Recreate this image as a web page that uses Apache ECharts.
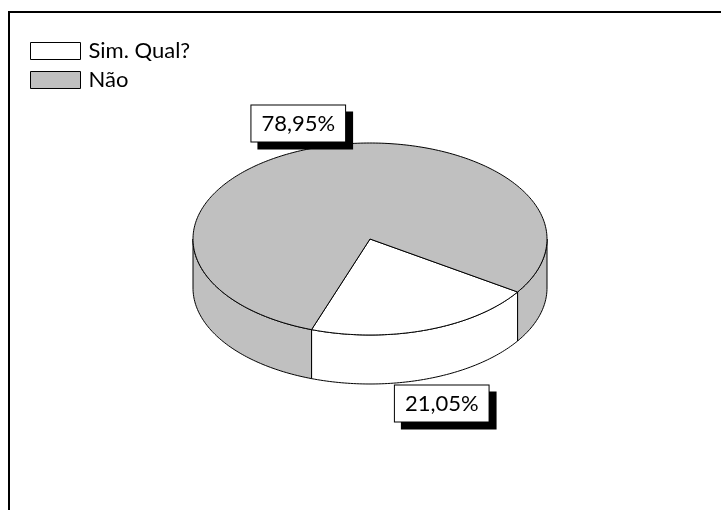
<!DOCTYPE html>
<html><head><meta charset="utf-8">
<script src="https://cdn.jsdelivr.net/npm/echarts@6/dist/echarts.min.js"></script>
<style>html,body{margin:0;padding:0;background:#fff}#c{width:721px;height:510px}</style>
</head><body><div id="c"></div>
<script>
const categories = ['Sim. Qual?', 'Não'];
const values = [21.05, 78.95];
const colors = ['#ffffff', '#c0c0c0'];

const chart = echarts.init(document.getElementById('c'), null, {renderer: 'canvas'});
const CX = 370, CY = 239, RX = 177, RY = 96, DEPTH = 49, START = 33.5;
const total = values.reduce((a, b) => a + b, 0);
function pt(deg, dy) { const r = deg * Math.PI / 180; return [CX + RX * Math.cos(r), CY + RY * Math.sin(r) + (dy || 0)]; }
function arc(a1, a2, dy) { const pts = []; const n = Math.max(2, Math.ceil(Math.abs(a2 - a1))); for (let i = 0; i <= n; i++) pts.push(pt(a1 + (a2 - a1) * i / n, dy)); return pts; }
function fmt(v) { return v.toFixed(2).replace('.', ',') + '%'; }

function makeRender(idx) {
  return function (params, api) {
    const v = api.value(0);
    let before = 0; for (let i = 0; i < idx; i++) before += values[i];
    const a1 = START + before / total * 360;
    const a2 = a1 + v / total * 360;
    const st = {fill: colors[idx], stroke: '#000', lineWidth: 1};
    const children = [];
    for (let k = -1; k <= 2; k++) {
      const lo = Math.max(a1, k * 360), hi = Math.min(a2, k * 360 + 180);
      if (hi > lo) {
        children.push({type: 'polygon', shape: {points: arc(lo, hi, 0).concat(arc(hi, lo, DEPTH))}, style: st});
      }
    }
    children.push({type: 'polygon', shape: {points: [[CX, CY]].concat(arc(a1, a2, 0))}, style: st});
    const mid = (a1 + a2) / 2, r = mid * Math.PI / 180, s = Math.sin(r);
    const lx = CX + 1.27 * RX * Math.cos(r), ly = CY + 1.27 * RY * s + (s > 0 ? DEPTH : 0);
    children.push({type: 'text', x: lx, y: ly, z2: 100, style: {
      text: fmt(v), font: '22px Lato', fill: '#000', align: 'center', verticalAlign: 'middle',
      backgroundColor: '#fff', borderColor: '#000', borderWidth: 1, padding: [7, 10],
      shadowColor: '#000', shadowBlur: 0, shadowOffsetX: 7, shadowOffsetY: 7
    }});
    return {type: 'group', children};
  };
}

chart.setOption({
  backgroundColor: '#fff',
  animation: false,
  graphic: [{type: 'polyline', silent: true, shape: {points: [[9, 510], [9, 12], [721, 12]]}, style: {stroke: '#000', lineWidth: 2, fill: null}}],
  legend: {
    orient: 'vertical', left: 25, top: 35, itemWidth: 50, itemHeight: 17, itemGap: 7, icon: 'rect',
    selectedMode: false, data: categories,
    textStyle: {fontFamily: 'Lato', fontSize: 22, color: '#000', padding: [0, 0, 0, 3]},
    itemStyle: {borderColor: '#000', borderWidth: 1}
  },
  series: categories.map((name, i) => ({
    type: 'custom', name, coordinateSystem: 'none', renderItem: makeRender(i),
    data: [[values[i]]], itemStyle: {color: colors[i]}
  }))
});
</script></body></html>
